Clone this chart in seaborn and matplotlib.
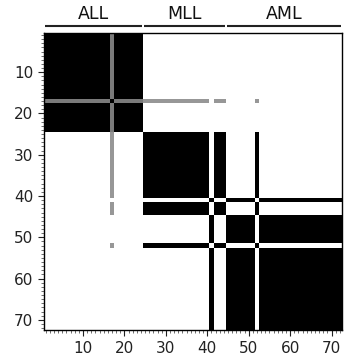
import numpy as np
import pandas as pd
import matplotlib
matplotlib.use("Agg")
import matplotlib.pyplot as plt
import matplotlib.transforms as mtransforms
import seaborn as sns

# ---- data ----
group_names = ["ALL", "MLL", "AML"]
group_sizes = [24, 20, 28]
# consensus cluster of each sample (1..72), in plotted order
cluster_of_sample = ([0] * 24 +          # 1-24
                     [1] * 16 +          # 25-40
                     [2] +               # 41
                     [1] * 3 +           # 42-44
                     [2] * 7 +           # 45-51
                     [1] +               # 52
                     [2] * 20)           # 53-72
ambiguous_sample = 17
ambiguous_with_all = 0.52
ambiguous_with_mll = 0.41
tick_values = [10, 20, 30, 40, 50, 60, 70]

# ---- consensus matrix ----
cl = np.array(cluster_of_sample)
n = len(cl)
M = (cl[:, None] == cl[None, :]).astype(float)
a = ambiguous_sample - 1
row = np.zeros(n)
row[cl == 0] = ambiguous_with_all
row[cl == 1] = ambiguous_with_mll
M[a, :] = row
M[:, a] = row
M[a, a] = 1.0
labels = list(range(1, n + 1))
df = pd.DataFrame(M, index=labels, columns=labels)

fig = plt.figure(figsize=(3.44, 3.62), dpi=100)
ax = fig.add_axes([0.127, 0.088, 0.867, 0.821])
sns.heatmap(df, ax=ax, cmap="gray_r", vmin=0, vmax=1, cbar=False,
            xticklabels=False, yticklabels=False)

for s in ax.spines.values():
    s.set_visible(True)
    s.set_color("black")
    s.set_linewidth(1.0)

pos = [t - 0.5 for t in tick_values]
ax.set_xticks(pos)
ax.set_xticklabels([str(t) for t in tick_values])
ax.set_yticks(pos)
ax.set_yticklabels([str(t) for t in tick_values], rotation=0)
ax.set_xticks(np.arange(0.5, n, 1), minor=True)
ax.set_yticks(np.arange(0.5, n, 1), minor=True)
ax.tick_params(which="major", length=4, width=0.8, labelsize=11, colors="#222222")
ax.tick_params(which="minor", length=2, width=0.5, colors="#333333")
ax.set_xlabel("")
ax.set_ylabel("")

trans = mtransforms.blended_transform_factory(ax.transData, ax.transAxes)
start = 0
for name, size in zip(group_names, group_sizes):
    end = start + size
    ax.plot([start + 0.3, end - 0.3], [1.024, 1.024], transform=trans,
            color="#222222", lw=1.5, clip_on=False, solid_capstyle="butt")
    ax.text((start + end) / 2, 1.032, name, transform=trans, ha="center",
            va="bottom", fontsize=12.5, color="#111111")
    start = end

fig.savefig("out.png", dpi=100)
